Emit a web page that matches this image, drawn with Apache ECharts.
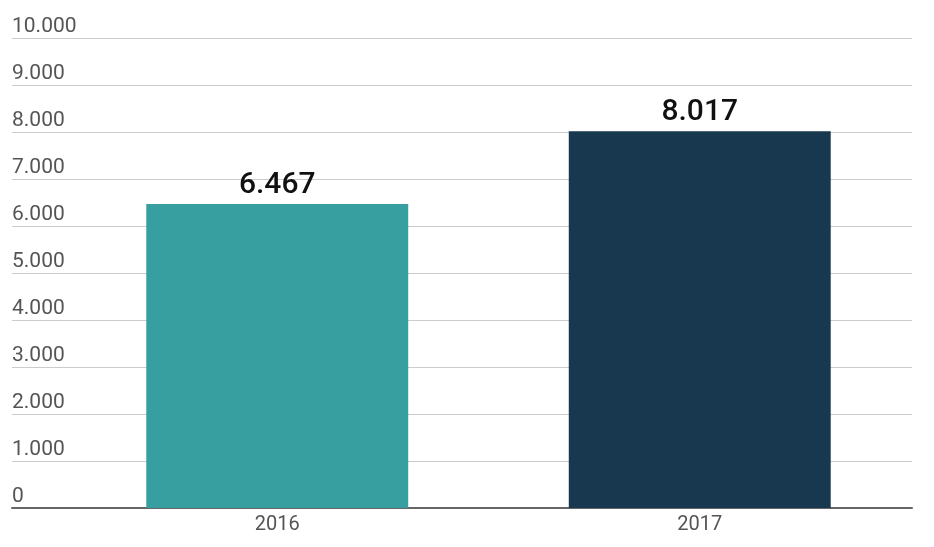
<!DOCTYPE html>
<html>
<head>
<meta charset="utf-8">
<script src="https://cdn.jsdelivr.net/npm/echarts@6/dist/echarts.min.js"></script>
<style>
html,body{margin:0;padding:0;background:#fff;}
#c{width:934px;height:547px;}
</style>
</head>
<body>
<div id="c"></div>
<script>
const categories = ['2016', '2017'];
const values = [6467, 8017];
const barColors = ['#389fa0', '#17384f'];
const yTicks = [0, 1000, 2000, 3000, 4000, 5000, 6000, 7000, 8000, 9000, 10000];

function fmt(v) {
  return String(v).replace(/\B(?=(\d{3})+(?!\d))/g, '.');
}

const chart = echarts.init(document.getElementById('c'));
chart.setOption({
  backgroundColor: '#ffffff',
  animation: false,
  grid: [
    { left: 12, right: 22, top: 38, bottom: 39 },
    { left: 66, right: 23, top: 38, bottom: 39 }
  ],
  xAxis: [
    {
      gridIndex: 0, type: 'value', min: 0, max: 1,
      axisLine: { show: true, lineStyle: { color: '#666666', width: 2 } },
      axisTick: { show: false }, axisLabel: { show: false }, splitLine: { show: false }
    },
    {
      gridIndex: 1, type: 'category', data: categories,
      axisLine: { show: false }, axisTick: { show: false },
      axisLabel: { fontFamily: 'Roboto', fontSize: 20, color: '#555555', margin: 7 }
    }
  ],
  yAxis: [
    {
      gridIndex: 0, type: 'value', min: yTicks[0], max: yTicks[yTicks.length - 1], interval: 1000,
      axisLine: { show: false }, axisTick: { show: false },
      splitLine: { lineStyle: { color: '#cccccc', width: 1 } },
      axisLabel: {
        inside: true, margin: 0, verticalAlign: 'bottom',
        fontFamily: 'Roboto', fontSize: 21, color: '#555555',
        padding: [0, 0, 1, 0],
        formatter: v => fmt(v)
      }
    },
    {
      gridIndex: 1, type: 'value', min: 0, max: 10000, show: false
    }
  ],
  series: [{
    type: 'bar',
    xAxisIndex: 1, yAxisIndex: 1,
    barWidth: '62%',
    data: values.map((v, i) => ({ value: v, itemStyle: { color: barColors[i] } })),
    label: {
      show: true, position: 'top', distance: 4,
      fontFamily: 'Roboto', fontSize: 30, fontWeight: 500, color: '#111111',
      formatter: p => fmt(p.value)
    }
  }]
});
</script>
</body>
</html>
